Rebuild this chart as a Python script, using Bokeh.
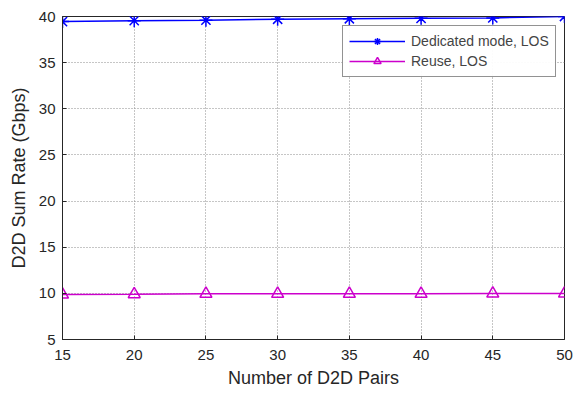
from bokeh.plotting import figure
from bokeh.embed import file_html
from bokeh.resources import INLINE
from bokeh.models import Legend, LegendItem, Range1d, FixedTicker

pairs = [15, 20, 25, 30, 35, 40, 45, 50]
dedicated_los = [39.45, 39.55, 39.6, 39.7, 39.75, 39.8, 39.85, 40.0]
reuse_los = [9.87, 9.9, 9.95, 9.95, 9.95, 9.95, 9.98, 9.98]
x_ticks = [15, 20, 25, 30, 35, 40, 45, 50]
y_ticks = [5, 10, 15, 20, 25, 30, 35, 40]

p = figure(width=576, height=390, output_backend="svg", toolbar_location=None,
           x_range=Range1d(15, 50), y_range=Range1d(5, 40),
           min_border_left=62, min_border_right=12, min_border_top=16, min_border_bottom=50)

font = "Liberation Sans"
for ax in [p.xaxis[0], p.yaxis[0]]:
    ax.major_label_text_font = font
    ax.major_label_text_font_size = "15px"
    ax.major_label_text_color = "#262626"
    ax.axis_label_text_font = font
    ax.axis_label_text_font_size = "18px"
    ax.axis_label_text_font_style = "normal"
    ax.axis_label_text_color = "#262626"
    ax.major_tick_in = 4
    ax.major_tick_out = 0
    ax.minor_tick_line_color = None
    ax.axis_line_color = "#262626"
    ax.major_tick_line_color = "#262626"
p.xaxis.ticker = FixedTicker(ticks=x_ticks)
p.yaxis.ticker = FixedTicker(ticks=y_ticks)
p.xaxis.axis_label = "Number of D2D Pairs"
p.yaxis.axis_label = "D2D Sum Rate (Gbps)"
p.xaxis.major_label_standoff = 10
p.yaxis.major_label_standoff = 7
p.xaxis.axis_label_standoff = 5
p.yaxis.axis_label_standoff = 7

p.xgrid.ticker = FixedTicker(ticks=x_ticks)
p.ygrid.ticker = FixedTicker(ticks=y_ticks)
p.grid.grid_line_color = "#8c8c8c"
p.grid.grid_line_dash = "1 2"
p.grid.grid_line_width = 1
p.outline_line_color = "#262626"

l1 = p.line(pairs, dedicated_los, line_color="#0000ff", line_width=1.5)
m1 = p.scatter(pairs, dedicated_los, marker="asterisk", size=13, line_color="#0000ff", line_width=1.5)
l2 = p.line(pairs, reuse_los, line_color="#cc00cc", line_width=1.5)
m2 = p.scatter(pairs, reuse_los, marker="triangle", size=12, line_color="#cc00cc",
               fill_color=None, line_width=1.5)

legend = Legend(items=[LegendItem(label="Dedicated mode, LOS", renderers=[l1, m1]),
                       LegendItem(label="Reuse, LOS", renderers=[l2, m2])],
                location=(280, 262))
legend.label_text_font = font
legend.label_text_font_size = "14px"
legend.border_line_color = "#262626"
legend.glyph_width = 56
legend.glyph_height = 18
legend.label_height = 18
legend.spacing = 2
legend.padding = 6
legend.margin = 0
legend.label_standoff = 6
p.add_layout(legend, "center")

open("out.html", "w").write(file_html(p, INLINE))
